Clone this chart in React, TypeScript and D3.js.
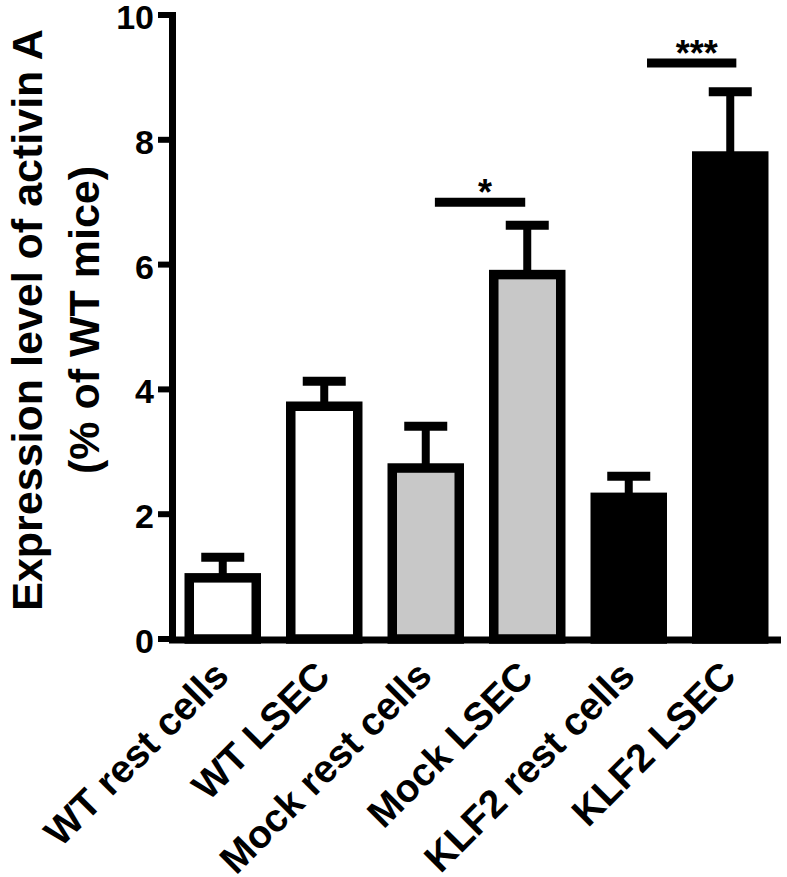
import React from "react";
import * as d3 from "d3";

const categories = ["WT rest cells", "WT LSEC", "Mock rest cells", "Mock LSEC", "KLF2 rest cells", "KLF2 LSEC"];
const means = [0.98, 3.73, 2.74, 5.84, 2.27, 7.74];
const errors = [0.33, 0.40, 0.67, 0.79, 0.34, 1.03];
const fills = ["#ffffff", "#ffffff", "#c8c8c8", "#c8c8c8", "#000000", "#000000"];
const yTicks = [0, 2, 4, 6, 8, 10];
const sigFrom = [2.09, 4.18];
const sigTo = [2.98, 5.06];
const sigLevel = [7.0, 9.23];
const sigLabel = ["*", "***"];
const titleLines = ["Expression level of activin A", "(% of WT mice)"];

const W = 787;
const H = 877;
const FONT = "'Liberation Sans', Arial, Helvetica, sans-serif";

export default function App() {
  const y = d3.scaleLinear().domain([0, 10]).range([639, 15]);
  const x = d3.scaleBand<string>().domain(categories).range([172, 781]).paddingInner(0.34).paddingOuter(0.17);
  const bw = x.bandwidth();
  const cx = (c: string) => (x(c) as number) + bw / 2;
  const idx = d3.scaleLinear().domain([0, categories.length - 1]).range([cx(categories[0]), cx(categories[categories.length - 1])]);

  return (
    <svg width={W} height={H} style={{ position: "absolute", left: 0, top: 0, background: "#fff" }} fontFamily={FONT} fontWeight="bold">
      <rect x={0} y={0} width={W} height={H} fill="#fff" />
      {titleLines.map((t, i) => (
        <text key={t} transform={`translate(${i === 0 ? 42 : 99},320) rotate(-90)`} textAnchor="middle" fontSize={43} fill="#000">
          {t}
        </text>
      ))}
      {categories.map((c, i) => (
        <g key={c}>
          <line x1={cx(c)} x2={cx(c)} y1={y(means[i])} y2={y(means[i] + errors[i])} stroke="#000" strokeWidth={8} />
          <line x1={cx(c) - 21.5} x2={cx(c) + 21.5} y1={y(means[i] + errors[i])} y2={y(means[i] + errors[i])} stroke="#000" strokeWidth={9} />
          <rect x={x(c)} y={y(means[i])} width={bw} height={y(0) - y(means[i])} fill={fills[i]} stroke="#000" strokeWidth={9.5} />
        </g>
      ))}
      <line x1={172.5} x2={172.5} y1={y(10) - 3} y2={643} stroke="#000" strokeWidth={7} />
      {yTicks.map((t) => (
        <g key={t}>
          <line x1={158} x2={172.5} y1={y(t)} y2={y(t)} stroke="#000" strokeWidth={6} />
          <text x={154} y={y(t) + 14} textAnchor="end" fontSize={34} fill="#000">
            {t}
          </text>
        </g>
      ))}
      <line x1={169} x2={781} y1={y(0) + 1} y2={y(0) + 1} stroke="#000" strokeWidth={7} />
      {categories.map((c) => (
        <text key={c} transform={`translate(${cx(c) + 8},678) rotate(-45)`} textAnchor="end" fontSize={39} fill="#000">
          {c}
        </text>
      ))}
      {sigLabel.map((s, i) => (
        <g key={i}>
          <line x1={idx(sigFrom[i])} x2={idx(sigTo[i])} y1={y(sigLevel[i])} y2={y(sigLevel[i])} stroke="#000" strokeWidth={9} />
          <text x={(idx(sigFrom[i]) + idx(sigTo[i])) / 2 + 5} y={y(sigLevel[i]) + 3} textAnchor="middle" fontSize={36} fill="#000">
            {s}
          </text>
        </g>
      ))}
    </svg>
  );
}
